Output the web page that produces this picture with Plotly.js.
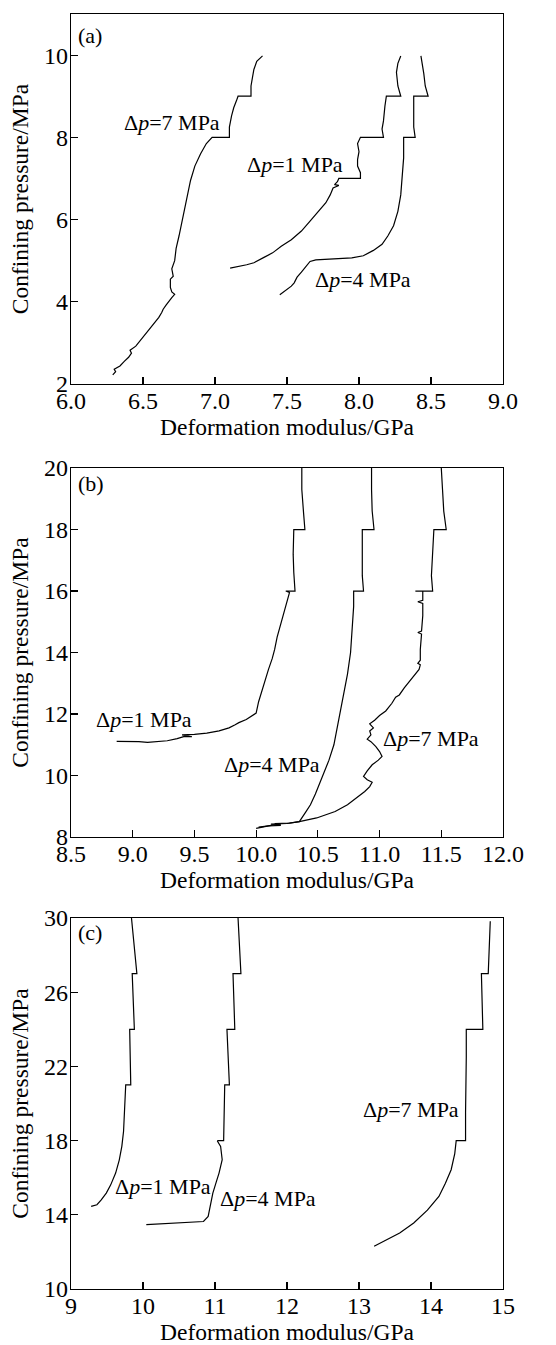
<!DOCTYPE html>
<html><head><meta charset="utf-8">
<script src="https://cdn.plot.ly/plotly-3.0.1.min.js"></script>
<style>html,body{margin:0;padding:0;background:#fff}</style>
</head><body><div id="chart" style="width:556px;height:1345px"></div>
<script>
// ---- Panel (a) ----
const a7_x=[6.29,6.31,6.30,6.34,6.37,6.40,6.42,6.41,6.45,6.48,6.51,6.54,6.57,6.59,6.61,6.63,6.64,6.66,6.68,6.70,6.72,6.70,6.69,6.69,6.71,6.70,6.72,6.73,6.75,6.77,6.79,6.81,6.83,6.86,6.90,6.94,6.98,7.10,7.10,7.115,7.13,7.15,7.16,7.25,7.25,7.26,7.27,7.29,7.33];
const a7_y=[2.22,2.30,2.36,2.44,2.55,2.65,2.75,2.82,2.92,3.05,3.18,3.30,3.42,3.52,3.62,3.74,3.82,3.92,4.02,4.10,4.18,4.24,4.35,4.55,4.62,4.80,5.00,5.30,5.60,5.95,6.25,6.60,6.95,7.30,7.60,7.85,8.00,8.00,8.25,8.52,8.72,8.90,9.00,9.00,9.25,9.45,9.65,9.85,9.98];
const a1_x=[7.105,7.17,7.22,7.27,7.30,7.34,7.40,7.46,7.53,7.60,7.66,7.72,7.77,7.80,7.82,7.86,7.83,7.85,7.86,8.01,8.01,7.99,7.99,8.00,7.99,8.01,8.17,8.16,8.17,8.18,8.19,8.29,8.27,8.26,8.27,8.29];
const a1_y=[4.82,4.86,4.90,4.95,5.00,5.08,5.19,5.35,5.51,5.72,5.96,6.20,6.41,6.60,6.77,6.83,6.85,6.92,7.00,7.00,7.14,7.30,7.46,7.65,7.85,8.00,8.00,8.20,8.40,8.76,9.00,9.00,9.25,9.58,9.80,9.98];
const a4_x=[7.45,7.47,7.50,7.53,7.55,7.57,7.60,7.63,7.66,7.70,7.85,7.95,8.03,8.10,8.16,8.20,8.24,8.27,8.29,8.30,8.31,8.31,8.39,8.38,8.38,8.38,8.48,8.46,8.45,8.44,8.43];
const a4_y=[4.17,4.22,4.30,4.38,4.46,4.60,4.72,4.85,4.98,5.02,5.05,5.07,5.12,5.25,5.40,5.60,5.85,6.20,6.60,7.00,7.50,8.00,8.00,8.25,8.60,9.00,9.00,9.25,9.55,9.80,9.98];
// ---- Panel (b) ----
const b1_x=[8.87,8.95,9.05,9.12,9.17,9.20,9.28,9.36,9.42,9.48,9.40,9.50,9.60,9.70,9.78,9.83,9.86,9.92,9.97,10.00,10.02,10.05,10.07,10.10,10.13,10.15,10.17,10.20,10.23,10.25,10.27,10.24,10.315,10.305,10.30,10.305,10.395,10.385,10.37,10.37];
const b1_y=[11.11,11.11,11.10,11.08,11.10,11.12,11.13,11.20,11.27,11.26,11.32,11.34,11.38,11.45,11.55,11.65,11.72,11.82,11.95,12.03,12.40,12.80,13.10,13.45,13.80,14.10,14.50,14.95,15.35,15.70,15.95,16.00,16.00,16.60,17.20,18.00,18.00,18.50,19.30,20.00];
const b4_x=[10.00,10.05,10.12,10.20,10.15,10.27,10.35,10.40,10.44,10.48,10.51,10.55,10.59,10.63,10.66,10.69,10.72,10.74,10.765,10.78,10.79,10.79,10.87,10.86,10.86,10.86,10.955,10.94,10.935,10.935];
const b4_y=[8.28,8.33,8.38,8.42,8.44,8.45,8.50,8.80,9.05,9.40,9.70,10.10,10.50,11.00,11.60,12.24,12.80,13.30,14.00,14.90,15.50,16.00,16.00,16.50,17.30,18.00,18.00,18.60,19.30,20.00];
const b7_x=[10.02,10.10,10.20,10.12,10.25,10.35,10.49,10.56,10.64,10.74,10.83,10.88,10.92,10.94,10.90,10.87,10.90,10.94,10.99,11.02,11.00,10.97,10.93,10.90,10.93,10.92,10.95,10.92,10.96,11.00,11.05,11.10,11.13,11.16,11.20,11.24,11.27,11.30,11.32,11.33,11.31,11.33,11.33,11.34,11.31,11.34,11.35,11.35,11.31,11.35,11.35,11.29,11.43,11.42,11.43,11.44,11.54,11.52,11.51,11.50];
const b7_y=[8.32,8.36,8.38,8.42,8.44,8.50,8.62,8.72,8.83,9.05,9.32,9.48,9.64,9.78,9.86,9.97,10.15,10.35,10.50,10.62,10.78,10.94,11.10,11.18,11.32,11.45,11.55,11.68,11.80,11.95,12.10,12.35,12.55,12.62,12.85,13.05,13.20,13.32,13.45,13.60,13.65,13.75,14.10,14.60,14.65,14.70,15.20,15.60,15.65,15.70,16.00,16.00,16.00,16.50,17.30,18.00,18.00,18.60,19.30,20.00];
// ---- Panel (c) ----
const c1_x=[9.28,9.36,9.42,9.49,9.55,9.62,9.67,9.706,9.73,9.74,9.75,9.76,9.83,9.82,9.815,9.88,9.87,9.85,9.915,9.88,9.84];
const c1_y=[14.45,14.54,14.80,15.17,15.60,16.25,16.95,17.69,18.50,19.30,20.20,21.00,21.00,22.50,24.00,24.00,25.50,27.00,27.00,28.50,30.00];
const c4_x=[10.046,10.30,10.60,10.84,10.905,10.94,10.97,11.02,11.056,11.10,11.078,11.035,11.04,11.12,11.13,11.135,11.20,11.18,11.166,11.275,11.26,11.25,11.36,11.34,11.32];
const c4_y=[13.47,13.52,13.57,13.64,13.91,14.50,15.17,15.80,16.25,16.97,17.69,17.96,18.00,18.00,19.50,21.00,21.00,22.50,24.00,24.00,25.50,27.00,27.00,28.50,30.00];
const c7_x=[13.21,13.40,13.565,13.76,13.95,14.11,14.20,14.28,14.33,14.35,14.48,14.48,14.49,14.49,14.49,14.72,14.71,14.70,14.795,14.81,14.823];
const c7_y=[12.30,12.70,13.02,13.56,14.25,14.99,15.70,16.43,17.30,18.00,18.00,19.50,21.00,22.50,24.00,24.00,25.50,27.00,27.00,28.50,29.82];
// ---- labels ----
const seriesLabels=['Δ<i>p</i>=1 MPa','Δ<i>p</i>=4 MPa','Δ<i>p</i>=7 MPa'];
const panelLabels=['(a)','(b)','(c)'];
const xTitle='Deformation modulus/GPa';
const yTitle='Confining pressure/MPa';
const labelPos={
  a:[[7.555,7.34],[8.03,4.54],[6.70,8.36]],
  b:[[9.09,11.81],[10.126,10.35],[11.42,11.21]],
  c:[[10.28,15.53],[11.73,14.9],[13.72,19.67]]
};

const FONT='Liberation Serif, Times New Roman, serif';
const line={color:'#000',width:1.2};
function tr(x,y,xa,ya){return {x:x,y:y,xaxis:xa,yaxis:ya,mode:'lines',line:line,showlegend:false,hoverinfo:'skip'};}
const data=[
  tr(a1_x,a1_y,'x','y'),tr(a4_x,a4_y,'x','y'),tr(a7_x,a7_y,'x','y'),
  tr(b1_x,b1_y,'x2','y2'),tr(b4_x,b4_y,'x2','y2'),tr(b7_x,b7_y,'x2','y2'),
  tr(c1_x,c1_y,'x3','y3'),tr(c4_x,c4_y,'x3','y3'),tr(c7_x,c7_y,'x3','y3')
];
function ax(o){
  return Object.assign({showline:true,mirror:true,linecolor:'#000',linewidth:1.2,ticks:'inside',ticklen:7,tickwidth:1.2,tickcolor:'#000',
    showgrid:false,zeroline:false,tickfont:{family:FONT,size:24,color:'#000'},automargin:false},o);
}
function xt(){return {text:xTitle,font:{family:FONT,size:23.5,color:'#000'},standoff:0};}
function yt(){return {text:yTitle,font:{family:FONT,size:23.5,color:'#000'},standoff:8};}
const dA=[0.7098,1], dB=[0.3545,0.6439], dC=[0,0.291];
const XS=-5, YS=-3;
const layout={
  width:556,height:1345,margin:{l:71,r:53,t:14,b:56},
  paper_bgcolor:'#fff',plot_bgcolor:'#fff',showlegend:false,
  xaxis:ax({range:[6,9],dtick:0.5,tick0:6,tickformat:'.1f',domain:[0,1],anchor:'y',ticklabelstandoff:XS,title:xt()}),
  yaxis:ax({range:[2,11],dtick:2,tick0:2,domain:dA,anchor:'x',ticklabelstandoff:YS,title:yt()}),
  xaxis2:ax({range:[8.5,12],dtick:0.5,tick0:8.5,tickformat:'.1f',domain:[0,1],anchor:'y2',ticklabelstandoff:XS,title:xt()}),
  yaxis2:ax({range:[8,20],dtick:2,tick0:8,domain:dB,anchor:'x2',ticklabelstandoff:YS,title:yt()}),
  xaxis3:ax({range:[9,15],dtick:1,tick0:9,domain:[0,1],anchor:'y3',ticklabelstandoff:XS,title:xt()}),
  yaxis3:ax({range:[10,30],dtick:4,tick0:10,domain:dC,anchor:'x3',ticklabelstandoff:YS,title:yt()}),
  annotations:[]
};
const ids=[['a','x','y'],['b','x2','y2'],['c','x3','y3']];
ids.forEach(function(p,i){
  labelPos[p[0]].forEach(function(pos,j){
    layout.annotations.push({x:pos[0],y:pos[1],xref:p[1],yref:p[2],text:seriesLabels[j],showarrow:false,
      xanchor:'center',yanchor:'middle',font:{family:FONT,size:22,color:'#000'}});
  });
  layout.annotations.push({x:0.012,y:[0.941,0.958,0.96][i],xref:p[1]+' domain',yref:p[2]+' domain',text:panelLabels[i],
    showarrow:false,xanchor:'left',yanchor:'middle',font:{family:FONT,size:22,color:'#000'}});
});
Plotly.newPlot('chart',data,layout,{staticPlot:true,displayModeBar:false});
</script></body></html>
